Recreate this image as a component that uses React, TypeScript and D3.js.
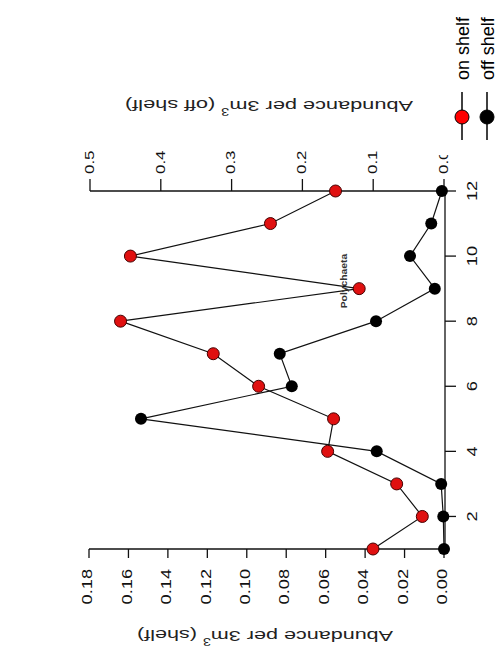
import * as d3 from 'd3';

const months = [1, 2, 3, 4, 5, 6, 7, 8, 9, 10, 11, 12];
const onShelf = [0.036, 0.011, 0.024, 0.059, 0.056, 0.094, 0.117, 0.164, 0.043, 0.159, 0.088, 0.055];
const offShelf = [0.0, 0.001, 0.004, 0.095, 0.428, 0.215, 0.232, 0.096, 0.013, 0.048, 0.018, 0.003];
const shelfTicks = [0, 0.02, 0.04, 0.06, 0.08, 0.1, 0.12, 0.14, 0.16, 0.18];
const offTicks = [0, 0.1, 0.2, 0.3, 0.4, 0.5];
const monthTicks = [2, 4, 6, 8, 10, 12];
const seriesNames = ['on shelf', 'off shelf'];

const FONT = '"Liberation Sans", Arial, sans-serif';

// text that reads bottom to top, stretched a bit along its length like the scanned picture
const VText = ({ x, y, anchor, size, sx = 1.3, children, weight = 'normal', fill = '#111' }: any) => (
  <text
    transform={`translate(${x},${y}) rotate(-90) scale(${sx},1)`}
    textAnchor={anchor}
    dominantBaseline="central"
    fontSize={size}
    fontWeight={weight}
    fontFamily={FONT}
    fill={fill}
  >
    {children}
  </text>
);

export default function App() {
  const yM = d3.scaleLinear().domain([1, 12]).range([549, 191]);
  const xS = d3.scaleLinear().domain([0, 0.18]).range([444, 89]);
  const xO = d3.scaleLinear().domain([0, 0.5]).range([444, 90]);

  const lineS = d3.line<number>().x(d => xS(d)).y((d, i) => yM(months[i]));
  const lineO = d3.line<number>().x(d => xO(d)).y((d, i) => yM(months[i]));

  const f2 = d3.format('.2f');
  const f1 = d3.format('.1f');

  return (
    <svg width={499} height={659} style={{ position: 'absolute', left: 0, top: 0, background: '#fff' }}>
      <rect width={499} height={659} fill="#fff" />

      {/* bottom axis: shelf */}
      <line x1={xS(0)} x2={xS(0.18)} y1={549} y2={549} stroke="#111" strokeWidth={1.3} />
      {shelfTicks.map(t => (
        <g key={'s' + t}>
          <line x1={xS(t)} x2={xS(t)} y1={549} y2={558} stroke="#111" strokeWidth={1.3} />
          <VText x={xS(t) - 2} y={569} anchor="end" size={14}>{f2(t)}</VText>
        </g>
      ))}

      {/* top axis: off shelf */}
      <line x1={xO(0)} x2={xO(0.5)} y1={191} y2={191} stroke="#111" strokeWidth={1.3} />
      {offTicks.map(t => (
        <g key={'o' + t}>
          <line x1={xO(t)} x2={xO(t)} y1={191} y2={179} stroke="#111" strokeWidth={1.3} />
          <VText x={xO(t) - 1} y={174} anchor="start" size={13}>{f1(t)}</VText>
        </g>
      ))}

      {/* month axis */}
      <line x1={445} x2={445} y1={yM(12)} y2={yM(1)} stroke="#111" strokeWidth={1.3} />
      {monthTicks.map(t => (
        <g key={'m' + t}>
          <line x1={445} x2={456} y1={yM(t)} y2={yM(t)} stroke="#111" strokeWidth={1.3} />
          <VText x={472} y={yM(t)} anchor="middle" size={14}>{t}</VText>
        </g>
      ))}

      {/* axis titles, upside down */}
      <text
        transform="translate(265,636) rotate(180)"
        textAnchor="middle"
        dominantBaseline="central"
        fontSize={15}
        fontFamily={FONT}
        fill="#222"
        textLength={256}
        lengthAdjust="spacingAndGlyphs"
      >
        Abundance per 3m<tspan dy={-6} fontSize={10}>3</tspan><tspan dy={6}> (shelf)</tspan>
      </text>
      <text
        transform="translate(269,106) rotate(180)"
        textAnchor="middle"
        dominantBaseline="central"
        fontSize={15}
        fontFamily={FONT}
        fill="#222"
        textLength={288}
        lengthAdjust="spacingAndGlyphs"
      >
        Abundance per 3m<tspan dy={-6} fontSize={10}>3</tspan><tspan dy={6}> (off shelf)</tspan>
      </text>

      {/* series */}
      <path d={lineS(onShelf) || ''} fill="none" stroke="#111" strokeWidth={1.2} />
      <path d={lineO(offShelf) || ''} fill="none" stroke="#111" strokeWidth={1.2} />
      {offShelf.map((v, i) => (
        <circle key={'bo' + i} cx={xO(v)} cy={yM(months[i])} r={6} fill="#000" />
      ))}
      {onShelf.map((v, i) => (
        <circle key={'rs' + i} cx={xS(v)} cy={yM(months[i])} r={6} fill="#e01010" stroke="#400" strokeWidth={1} />
      ))}

      {/* title */}
      <VText x={344} y={281} anchor="middle" size={9} sx={1.15} weight="bold" fill="#333">Polychaeta</VText>

      {/* legend pasted over the corner */}
      <rect x={433} y={0} width={66} height={155} fill="#fff" />
      {seriesNames.map((name, i) => {
        const lx = 462 + i * 25;
        return (
          <g key={name}>
            <line x1={lx} x2={lx} y1={92} y2={140} stroke="#000" strokeWidth={1.5} />
            <circle cx={lx} cy={117} r={7} fill={i === 0 ? '#ff0000' : '#000'} stroke="#000" strokeWidth={1} />
            <text
              transform={`translate(${lx + 7},80) rotate(-90)`}
              fontSize={18}
              fontFamily={FONT}
              fill="#000"
            >
              {name}
            </text>
          </g>
        );
      })}
    </svg>
  );
}
